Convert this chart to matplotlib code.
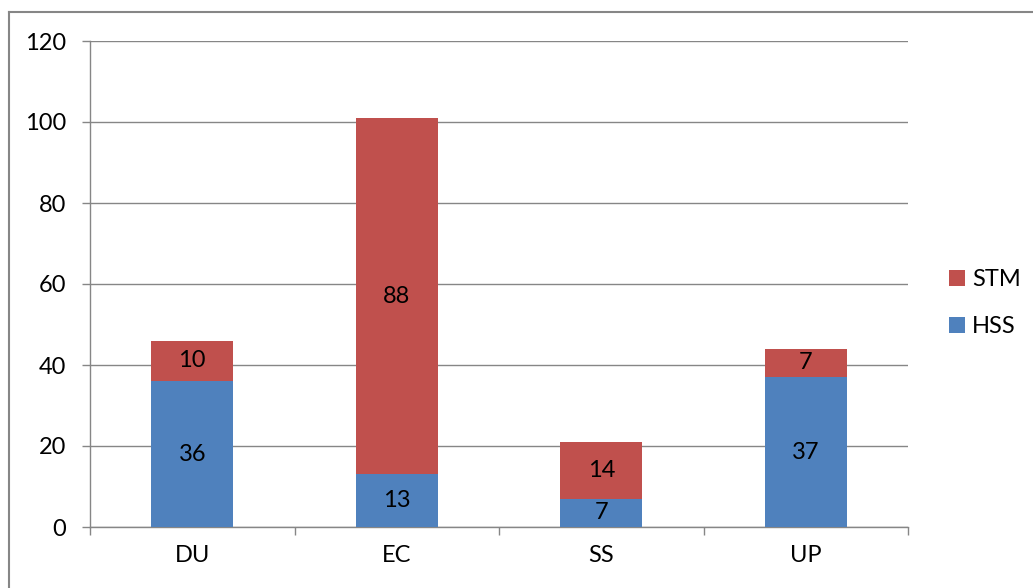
import matplotlib
matplotlib.use("Agg")
import matplotlib.pyplot as plt
import numpy as np
from matplotlib.lines import Line2D

categories = ["DU", "EC", "SS", "UP"]
hss = [36, 13, 7, 37]
stm = [10, 88, 14, 7]
yticks = [0, 20, 40, 60, 80, 100, 120]

blue = "#4F81BD"
red = "#C0504D"
gray = "#868686"

plt.rcParams['font.family'] = ['Lato', 'DejaVu Sans']
FS = 17

fig = plt.figure(figsize=(10.33, 5.88), dpi=100)
ax = fig.add_axes([90/1033, 1-527/588, (908-90)/1033, (527-41)/588])

x = np.arange(len(categories))
w = 0.4
b1 = ax.bar(x, hss, w, color=blue, label="HSS", zorder=3)
b2 = ax.bar(x, stm, w, bottom=hss, color=red, label="STM", zorder=3)

for i in range(len(categories)):
    ax.text(x[i], hss[i]/2, str(hss[i]), ha='center', va='center', fontsize=FS, color='black', zorder=4)
    ax.text(x[i], hss[i] + stm[i]/2, str(stm[i]), ha='center', va='center', fontsize=FS, color='black', zorder=4)

ax.set_xlim(-0.5, len(categories)-0.5)
ax.set_ylim(0, 120)
ax.set_yticks(yticks)
ax.set_yticklabels([str(v) for v in yticks], fontsize=FS)
ax.yaxis.grid(True, color=gray, linewidth=1, zorder=0)
ax.set_xticks(x)
ax.set_xticklabels(categories, fontsize=FS)
ax.tick_params(axis='x', length=0, pad=13)
ax.tick_params(axis='y', length=6, color=gray, pad=11, width=1)
ax.set_xticks(np.arange(-0.5, len(categories), 1), minor=True)
ax.tick_params(axis='x', which='minor', length=6, color=gray, width=1)
for s in ['top', 'right']:
    ax.spines[s].set_visible(False)
for s in ['left', 'bottom']:
    ax.spines[s].set_color(gray)
    ax.spines[s].set_linewidth(1)

handles = [b2, b1]
leg = fig.legend(handles, ["STM", "HSS"], loc='center left', bbox_to_anchor=(940/1033, 1-303/588),
                 frameon=False, fontsize=FS, handlelength=0.65, handleheight=0.65,
                 labelspacing=1.1, handletextpad=0.3, borderaxespad=0)

# outer chart-area border (left and top visible)
fig.add_artist(Line2D([9/1033, 9/1033], [0, 1-12/588], transform=fig.transFigure, color=gray, linewidth=1.5))
fig.add_artist(Line2D([9/1033, 1], [1-12/588, 1-12/588], transform=fig.transFigure, color=gray, linewidth=1.5))

fig.savefig("out.png", dpi=100)
